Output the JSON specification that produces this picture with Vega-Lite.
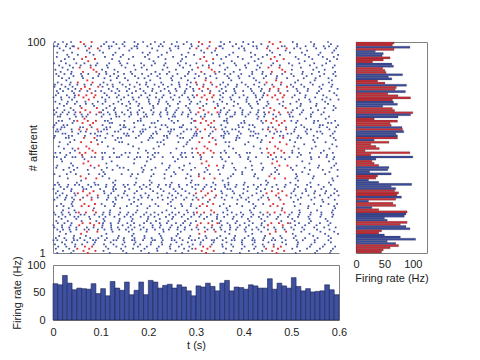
{
"$schema":"https://vega.github.io/schema/vega-lite/v6.json",
"padding":{"left":10,"top":36,"right":5,"bottom":5},
"background":"white",
"config":{"font":"Liberation Sans","view":{"stroke":null},
"axis":{"labelFont":"Liberation Sans","titleFont":"Liberation Sans","labelFontSize":11,"titleFontSize":11,"titleFontWeight":"normal","labelColor":"#222222","titleColor":"#222222","domainColor":"#808080","tickColor":"#808080","grid":false,"labelFlush":false}},
"datasets":{
"aff":[
{"aff":100,"rate":67,"grp":"R","blue":[4,21,38,112,127,150,171,189,214,233,260,281,352,371,399,420,503,541,577],"red":[58,81,306,329,454,477]},
{"aff":99,"rate":64,"grp":"R","blue":[11,29,107,133,146,178,205,226,249,274,290,359,384,410,437,512,548,583],"red":[65,313,461]},
{"aff":98,"rate":95,"grp":"B","blue":[3,9,27,41,44,68,80,101,117,123,150,171,176,198,222,230,257,263,291,305,328,349,352,377,396,420,427,451,480,486,512,530,547,568,579,597],"red":[]},
{"aff":97,"rate":67,"grp":"R","blue":[14,36,118,139,165,177,208,245,263,287,356,390,401,428,506,519,552,571,594],"red":[53,76,94,301,324,342,449,472,490]},
{"aff":96,"rate":34,"grp":"B","blue":[22,71,98,160,219,247,311,340,402,455,488,533,590],"red":[]},
{"aff":95,"rate":48,"grp":"B","blue":[9,40,77,105,131,188,203,239,284,317,333,378,415,460,497,522,561,586],"red":[]},
{"aff":94,"rate":46,"grp":"B","blue":[30,52,85,126,147,199,228,270,296,344,370,424,449,476,529,557,598],"red":[]},
{"aff":93,"rate":60,"grp":"R","blue":[8,33,109,142,168,193,221,252,279,363,388,416,440,509,537,566,589],"red":[69,317,465]},
{"aff":92,"rate":48,"grp":"R","blue":[25,44,124,159,202,236,271,353,398,431,515,544,575,596],"red":[61,88,309,336,457,484]},
{"aff":91,"rate":29,"grp":"R","blue":[17,139,211,268,375,423,528,581],"red":[74,322,470]},
{"aff":90,"rate":63,"grp":"B","blue":[2,27,49,66,93,118,141,156,185,214,236,262,279,301,336,358,381,410,437,462,495,517,548,573],"red":[]},
{"aff":89,"rate":66,"grp":"B","blue":[13,35,58,79,90,113,144,170,191,207,233,266,288,314,327,350,384,403,429,458,476,502,539,565,591],"red":[]},
{"aff":88,"rate":47,"grp":"R","blue":[20,42,115,152,186,240,273,366,405,434,520,553,587],"red":[56,79,304,327,452,475]},
{"aff":87,"rate":51,"grp":"R","blue":[5,31,103,129,173,197,230,258,292,361,392,427,501,546,570],"red":[85,333,481]},
{"aff":86,"rate":53,"grp":"R","blue":[16,39,111,136,163,215,244,285,349,379,418,440,524,558,592],"red":[63,91,311,339,459,487]},
{"aff":85,"rate":82,"grp":"B","blue":[7,24,38,59,74,97,112,128,149,166,187,206,224,239,261,283,299,318,341,360,372,395,418,439,457,481,500,523,543,569,588],"red":[]},
{"aff":84,"rate":57,"grp":"B","blue":[12,43,61,95,120,137,172,200,219,251,277,306,330,366,389,412,447,470,505,532,560,593],"red":[]},
{"aff":83,"rate":63,"grp":"B","blue":[19,34,63,84,108,134,151,179,192,225,248,269,297,321,343,369,391,421,442,469,491,526,551,578],"red":[]},
{"aff":82,"rate":38,"grp":"R","blue":[28,121,157,204,250,283,374,426,514,549,585],"red":[72,320,468]},
{"aff":81,"rate":51,"grp":"R","blue":[10,37,106,140,176,196,227,264,289,357,396,433,508,540,579],"red":[52,83,300,331,448,479]},
{"aff":80,"rate":89,"grp":"B","blue":[4,18,35,51,66,80,99,114,125,146,161,182,195,213,231,249,265,281,302,316,334,351,367,386,404,422,444,460,478,499,521,545,566,586],"red":[]},
{"aff":79,"rate":71,"grp":"R","blue":[3,26,41,104,126,153,171,199,222,241,266,288,362,385,409,432,504,527,559,584],"red":[67,95,315,343,463,491]},
{"aff":78,"rate":69,"grp":"R","blue":[15,32,47,117,135,160,183,209,234,257,280,294,354,380,415,438,511,535,563,597],"red":[59,77,307,325,455,473]},
{"aff":77,"rate":87,"grp":"B","blue":[8,21,40,56,72,89,101,123,139,155,174,190,208,226,243,259,277,295,313,330,349,363,381,399,417,436,454,473,492,513,534,558,580],"red":[]},
{"aff":76,"rate":56,"grp":"R","blue":[11,44,108,131,166,194,217,246,276,357,383,421,443,518,554,590],"red":[81,329,477]},
{"aff":75,"rate":74,"grp":"R","blue":[6,29,46,113,138,158,185,203,232,255,271,293,351,377,400,425,441,507,530,567,595],"red":[54,70,89,302,318,337,450,466,485]},
{"aff":74,"rate":96,"grp":"R","blue":[1,17,34,45,103,118,134,149,167,180,198,216,229,247,265,283,296,356,372,391,408,426,439,502,529,550,574],"red":[64,86,312,334,460,482]},
{"aff":73,"rate":64,"grp":"R","blue":[18,40,110,143,169,201,223,252,286,350,374,406,434,516,538,565,582,599],"red":[75,323,471]},
{"aff":72,"rate":66,"grp":"B","blue":[5,31,50,68,94,110,137,159,175,201,222,238,266,290,309,337,355,380,406,428,450,483,511,540,571],"red":[]},
{"aff":71,"rate":73,"grp":"B","blue":[14,29,46,69,83,104,127,145,162,181,203,220,241,262,287,303,322,345,365,388,411,430,452,475,498,520,553,577],"red":[]},
{"aff":70,"rate":47,"grp":"B","blue":[23,57,86,119,154,179,210,245,279,315,346,379,414,448,482,519,552,589],"red":[]},
{"aff":69,"rate":64,"grp":"R","blue":[9,37,112,130,162,187,211,238,263,284,359,393,417,442,512,541,570,593],"red":[60,92,308,340,456,488]},
{"aff":68,"rate":68,"grp":"R","blue":[2,24,43,105,128,157,181,206,237,259,287,352,370,398,431,503,525,556,588],"red":[68,316,464]},
{"aff":67,"rate":100,"grp":"R","blue":[7,20,33,47,101,115,131,145,163,177,190,211,226,240,256,272,289,351,366,382,397,414,430,443,500,522,545,568],"red":[57,78,97,305,326,345,453,474,493]},
{"aff":66,"rate":96,"grp":"B","blue":[3,16,30,45,60,73,91,106,119,132,150,164,178,195,209,224,240,253,270,284,300,319,333,348,363,381,397,410,427,445,462,477,496,518,541,563],"red":[]},
{"aff":65,"rate":74,"grp":"B","blue":[10,15,48,62,70,102,133,139,160,191,197,226,251,256,283,310,318,349,372,376,404,431,443,468,497,503,541,579],"red":[]},
{"aff":64,"rate":32,"grp":"R","blue":[35,122,184,243,291,365,429,531,572],"red":[66,314,462]},
{"aff":63,"rate":73,"grp":"R","blue":[12,19,44,109,115,150,178,184,220,249,262,296,359,364,401,437,500,513,548,556,592],"red":[51,73,90,299,321,338,447,469,486]},
{"aff":62,"rate":60,"grp":"R","blue":[7,41,119,124,170,207,213,254,290,366,395,402,440,510,547,577,584],"red":[62,84,310,332,458,480]},
{"aff":61,"rate":62,"grp":"R","blue":[3,22,30,104,141,149,190,228,236,273,353,389,412,419,521,560,566,598],"red":[78,326,474]},
{"aff":60,"rate":81,"grp":"B","blue":[1,18,24,57,63,81,112,120,148,152,171,203,215,240,266,270,299,331,338,362,390,398,423,452,461,489,510,527,559,575,594],"red":[]},
{"aff":59,"rate":82,"grp":"R","blue":[9,16,39,107,113,142,160,188,194,225,248,254,281,290,355,376,383,411,440,507,533,541,580],"red":[55,71,93,303,319,341,451,467,489]},
{"aff":58,"rate":84,"grp":"B","blue":[6,11,40,58,69,95,101,130,137,168,183,189,216,242,247,274,300,309,335,359,366,390,415,421,455,470,478,506,530,554,561,591],"red":[]},
{"aff":57,"rate":70,"grp":"B","blue":[20,26,53,79,88,114,149,156,185,210,218,245,268,297,302,330,361,369,394,425,431,464,492,500,533,565,587],"red":[]},
{"aff":56,"rate":73,"grp":"B","blue":[4,33,40,67,93,99,125,154,159,180,206,233,239,261,295,301,327,353,358,387,414,420,447,476,483,515,547,582],"red":[]},
{"aff":55,"rate":73,"grp":"R","blue":[2,27,33,110,136,143,174,203,209,240,267,273,292,358,385,391,429,513,520,555,589],"red":[65,87,313,335,461,483]},
{"aff":54,"rate":32,"grp":"B","blue":[45,92,131,200,232,287,341,384,438,497,546,593],"red":[]},
{"aff":53,"rate":58,"grp":"R","blue":[14,36,103,139,145,186,219,226,263,282,362,370,410,436,508,549,572],"red":[59,80,307,328,455,476]},
{"aff":52,"rate":26,"grp":"R","blue":[31,158,233,280,403,527,586],"red":[94,342,490]},
{"aff":51,"rate":35,"grp":"R","blue":[12,115,168,222,274,369,421,506,551,595],"red":[70,318,466]},
{"aff":50,"rate":41,"grp":"R","blue":[23,41,127,180,211,259,292,378,435,515,543,580],"red":[53,76,301,324,449,472]},
{"aff":49,"rate":16,"grp":"R","blue":[46,195,360,502,568],"red":[83,331,479]},
{"aff":48,"rate":95,"grp":"R","blue":[5,15,36,103,109,128,152,161,178,199,214,221,247,270,277,292,352,363,384,407,413,438,502,516,539,562,587],"red":[56,68,89,304,316,337,452,464,485]},
{"aff":47,"rate":26,"grp":"R","blue":[28,144,209,268,391,520,575],"red":[61,309,457]},
{"aff":46,"rate":100,"grp":"B","blue":[2,8,25,41,47,62,81,88,104,119,134,139,158,176,183,199,213,230,252,271,279,294,311,334,352,369,393,410,426,451,468,479,496,513,541,558,574,590],"red":[]},
{"aff":45,"rate":35,"grp":"B","blue":[17,66,104,171,205,262,310,355,409,461,487,542,588],"red":[]},
{"aff":44,"rate":28,"grp":"R","blue":[19,123,197,256,362,414,523,579],"red":[74,322,470]},
{"aff":43,"rate":32,"grp":"R","blue":[38,112,170,229,287,376,437,538,594],"red":[64,312,460]},
{"aff":42,"rate":40,"grp":"R","blue":[9,42,135,193,245,275,358,417,511,558,590],"red":[79,96,327,344,475,492]},
{"aff":41,"rate":58,"grp":"B","blue":[7,34,51,87,113,140,148,186,215,243,265,298,321,357,380,404,441,466,499,528,556,584],"red":[]},
{"aff":40,"rate":56,"grp":"B","blue":[22,44,73,102,125,158,190,207,238,272,290,324,347,383,418,439,470,503,539,566,597],"red":[]},
{"aff":39,"rate":24,"grp":"B","blue":[37,106,188,254,318,397,466,523,580],"red":[]},
{"aff":38,"rate":62,"grp":"B","blue":[3,29,48,75,97,109,144,166,178,211,234,257,282,306,329,350,378,397,424,458,474,510,536,571],"red":[]},
{"aff":37,"rate":38,"grp":"R","blue":[14,104,163,206,248,289,373,422,512,547,597],"red":[58,306,454]},
{"aff":36,"rate":35,"grp":"R","blue":[31,118,175,234,279,367,430,509,545,586],"red":[69,91,317,339,465,487]},
{"aff":35,"rate":22,"grp":"B","blue":[59,131,203,291,356,447,514,588],"red":[]},
{"aff":34,"rate":40,"grp":"B","blue":[10,50,87,126,174,207,249,289,336,368,402,451,498,540,579],"red":[]},
{"aff":33,"rate":98,"grp":"B","blue":[4,13,32,46,55,74,89,95,112,130,148,157,171,190,203,222,237,246,264,281,299,305,322,341,360,368,385,400,421,436,448,469,488,509,533,557,583],"red":[]},
{"aff":32,"rate":62,"grp":"B","blue":[16,30,62,80,111,127,151,182,196,220,245,265,292,318,332,361,383,409,430,460,486,514,541,568],"red":[]},
{"aff":31,"rate":70,"grp":"B","blue":[1,23,39,64,70,99,126,132,160,186,204,226,253,271,299,315,340,366,372,400,427,445,472,507,530,563,591],"red":[]},
{"aff":30,"rate":68,"grp":"R","blue":[10,38,107,127,151,176,210,232,257,278,353,377,408,436,505,531,550,573,596],"red":[63,85,311,333,459,481]},
{"aff":29,"rate":75,"grp":"R","blue":[6,20,45,108,122,149,171,194,219,244,262,286,355,380,399,427,500,523,548,571,590],"red":[52,77,300,325,448,473]},
{"aff":28,"rate":72,"grp":"R","blue":[14,29,47,116,137,156,184,201,228,250,269,295,364,392,418,441,509,536,560,583,599],"red":[72,94,320,342,468,490]},
{"aff":27,"rate":80,"grp":"B","blue":[9,27,40,63,81,94,116,131,145,170,186,199,220,241,258,280,301,314,339,354,376,395,410,437,451,474,499,520,549,578],"red":[]},
{"aff":26,"rate":70,"grp":"R","blue":[3,25,44,113,132,160,179,208,230,251,275,293,360,387,405,431,514,542,565,591],"red":[57,81,305,329,453,477]},
{"aff":25,"rate":22,"grp":"B","blue":[41,126,170,247,325,411,505,567],"red":[]},
{"aff":24,"rate":65,"grp":"R","blue":[17,39,102,130,164,185,215,241,269,290,358,386,420,441,519,548,578,596],"red":[66,88,314,336,462,484]},
{"aff":23,"rate":70,"grp":"R","blue":[8,22,41,109,128,155,177,203,221,248,271,289,350,371,397,425,507,536,562,590],"red":[60,75,308,323,456,471]},
{"aff":22,"rate":28,"grp":"B","blue":[33,86,141,198,256,301,364,422,481,535,592],"red":[]},
{"aff":21,"rate":40,"grp":"R","blue":[21,45,120,177,238,281,366,413,517,554,587],"red":[84,332,480]},
{"aff":20,"rate":90,"grp":"R","blue":[2,18,33,48,106,119,141,158,174,196,213,229,250,264,283,295,357,375,394,416,435,501,518,541,563,585],"red":[54,69,90,302,317,338,450,465,486]},
{"aff":19,"rate":88,"grp":"B","blue":[5,20,36,58,66,87,104,119,138,155,168,191,205,221,244,257,275,296,310,331,345,366,385,399,420,441,455,477,496,516,540,563,588],"red":[]},
{"aff":18,"rate":85,"grp":"B","blue":[12,26,45,53,76,97,110,129,150,163,184,200,213,237,252,270,290,307,323,344,359,379,396,416,432,450,472,493,514,536,561,586],"red":[]},
{"aff":17,"rate":50,"grp":"B","blue":[18,49,78,106,140,167,199,224,250,283,317,344,377,409,437,469,502,538,572],"red":[]},
{"aff":16,"rate":55,"grp":"B","blue":[7,31,60,91,108,139,165,197,216,242,277,300,334,352,386,412,444,479,507,541,576],"red":[]},
{"aff":15,"rate":90,"grp":"R","blue":[10,24,39,105,121,137,156,170,191,205,224,239,258,273,289,349,366,383,402,419,438,498,516,537,560,582],"red":[62,78,97,310,326,345,458,474,493]},
{"aff":14,"rate":78,"grp":"R","blue":[1,19,37,104,122,146,163,182,209,226,249,268,287,354,371,392,411,437,508,529,553,578],"red":[55,86,303,334,451,482]},
{"aff":13,"rate":88,"grp":"B","blue":[3,19,34,49,71,85,103,122,136,158,171,190,209,224,246,262,277,301,318,333,351,372,387,405,427,443,464,482,500,523,548,569,593],"red":[]},
{"aff":12,"rate":95,"grp":"B","blue":[9,21,35,49,66,75,94,108,123,139,153,166,184,197,214,231,243,261,276,291,305,324,338,353,371,384,402,418,431,451,467,486,505,527,554,580],"red":[]},
{"aff":11,"rate":45,"grp":"R","blue":[15,37,125,159,196,232,268,361,404,437,521,561,590],"red":[71,93,319,341,467,489]},
{"aff":10,"rate":40,"grp":"R","blue":[27,112,169,223,262,370,418,503,538,571,598],"red":[59,307,455]},
{"aff":9,"rate":50,"grp":"B","blue":[13,44,69,102,138,166,192,226,259,288,320,351,382,410,445,477,509,546,578],"red":[]},
{"aff":8,"rate":78,"grp":"B","blue":[6,24,43,57,78,95,113,136,149,171,192,207,228,249,266,285,306,322,344,363,380,402,420,443,462,480,505,529,555,583],"red":[]},
{"aff":7,"rate":105,"grp":"B","blue":[1,9,28,44,51,66,84,90,109,127,133,148,166,171,189,209,214,230,249,255,272,291,298,315,333,338,356,375,381,397,418,423,441,459,466,488,511,524,549,578],"red":[]},
{"aff":6,"rate":55,"grp":"B","blue":[19,40,72,88,121,150,173,206,228,259,283,310,337,364,396,423,452,481,514,549,583],"red":[]},
{"aff":5,"rate":70,"grp":"B","blue":[4,25,47,61,85,107,127,146,170,183,205,229,247,270,293,309,333,355,374,397,419,440,463,489,513,542,570],"red":[]},
{"aff":4,"rate":75,"grp":"R","blue":[11,28,46,111,133,152,178,197,222,245,264,286,356,378,402,425,443,512,539,566,592],"red":[67,82,315,330,463,478]},
{"aff":3,"rate":60,"grp":"R","blue":[6,34,116,143,168,192,218,246,275,292,363,396,422,502,533,560,587],"red":[51,76,299,324,447,472]},
{"aff":2,"rate":48,"grp":"R","blue":[21,43,106,147,185,219,257,284,374,411,439,518,554,583],"red":[64,89,312,337,460,485]},
{"aff":1,"rate":45,"grp":"R","blue":[9,38,119,154,201,239,271,358,392,430,509,550,581],"red":[73,321,469]}
],
"hist":[
{"t0":0,"t1":10,"rate":66},{"t0":10,"t1":20,"rate":64},{"t0":20,"t1":30,"rate":81},{"t0":30,"t1":40,"rate":67},{"t0":40,"t1":50,"rate":55},
{"t0":50,"t1":60,"rate":58},{"t0":60,"t1":70,"rate":57},{"t0":70,"t1":80,"rate":56},{"t0":80,"t1":90,"rate":66},{"t0":90,"t1":100,"rate":48},
{"t0":100,"t1":110,"rate":57},{"t0":110,"t1":120,"rate":44},{"t0":120,"t1":130,"rate":70},{"t0":130,"t1":140,"rate":58},{"t0":140,"t1":150,"rate":54},
{"t0":150,"t1":160,"rate":69},{"t0":160,"t1":170,"rate":46},{"t0":170,"t1":180,"rate":54},{"t0":180,"t1":190,"rate":69},{"t0":190,"t1":200,"rate":46},
{"t0":200,"t1":210,"rate":72},{"t0":210,"t1":220,"rate":69},{"t0":220,"t1":230,"rate":58},{"t0":230,"t1":240,"rate":63},{"t0":240,"t1":250,"rate":65},
{"t0":250,"t1":260,"rate":58},{"t0":260,"t1":270,"rate":64},{"t0":270,"t1":280,"rate":60},{"t0":280,"t1":290,"rate":53},{"t0":290,"t1":300,"rate":44},
{"t0":300,"t1":310,"rate":62},{"t0":310,"t1":320,"rate":60},{"t0":320,"t1":330,"rate":67},{"t0":330,"t1":340,"rate":61},{"t0":340,"t1":350,"rate":53},
{"t0":350,"t1":360,"rate":67},{"t0":360,"t1":370,"rate":72},{"t0":370,"t1":380,"rate":53},{"t0":380,"t1":390,"rate":60},{"t0":390,"t1":400,"rate":59},
{"t0":400,"t1":410,"rate":56},{"t0":410,"t1":420,"rate":64},{"t0":420,"t1":430,"rate":62},{"t0":430,"t1":440,"rate":58},{"t0":440,"t1":450,"rate":58},
{"t0":450,"t1":460,"rate":75},{"t0":460,"t1":470,"rate":56},{"t0":470,"t1":480,"rate":67},{"t0":480,"t1":490,"rate":62},{"t0":490,"t1":500,"rate":58},
{"t0":500,"t1":510,"rate":77},{"t0":510,"t1":520,"rate":61},{"t0":520,"t1":530,"rate":53},{"t0":530,"t1":540,"rate":57},{"t0":540,"t1":550,"rate":51},
{"t0":550,"t1":560,"rate":52},{"t0":560,"t1":570,"rate":53},{"t0":570,"t1":580,"rate":64},{"t0":580,"t1":590,"rate":55},{"t0":590,"t1":600,"rate":46}
]
},
"columns":2,
"spacing":{"row":12,"column":17},
"bounds":"flush",
"concat":[
{
"width":286,"height":211,
"data":{"name":"aff"},
"encoding":{
"x":{"field":"t","type":"quantitative","scale":{"domain":[0,600],"nice":false,"zero":false},"axis":{"labels":false,"ticks":false,"title":null,"domain":true}},
"y":{"field":"aff","type":"quantitative","scale":{"domain":[1,100],"nice":false,"zero":false},"axis":{"values":[1,100],"title":"# afferent","ticks":false,"domain":true,"labelPadding":8,"titleX":-20,"titleBaseline":"middle"}}
},
"layer":[
{"transform":[{"flatten":["blue"],"as":["t"]}],"mark":{"type":"square","size":3,"color":"#4252A3","opacity":1}},
{"transform":[{"flatten":["red"],"as":["t"]}],"mark":{"type":"square","size":3.5,"color":"#DC3038","opacity":1}}
]
},
{
"width":71,"height":211,
"data":{"name":"aff"},
"view":{"stroke":"#808080"},
"mark":{"type":"bar","stroke":"#1e1e1e","strokeWidth":0.2},
"encoding":{
"y":{"field":"aff","type":"ordinal","sort":"descending","scale":{"paddingInner":0,"paddingOuter":0},"axis":null},
"x":{"field":"rate","type":"quantitative","scale":{"domain":[0,125],"nice":false},"axis":{"values":[0,50,100],"title":"Firing rate (Hz)","ticks":false,"domain":false,"labelPadding":5,"titlePadding":3}},
"color":{"field":"grp","type":"nominal","scale":{"domain":["R","B"],"range":["#C8303A","#3C4C9C"]},"legend":null}
}
},
{
"width":286,"height":55,
"data":{"name":"hist"},
"view":{"stroke":"#808080"},
"mark":{"type":"rect","color":"#3E50A0","stroke":"#1c2250","strokeWidth":0.6},
"encoding":{
"x":{"field":"t0","type":"quantitative","scale":{"domain":[0,600],"nice":false},"axis":{"values":[0,100,200,300,400,500,600],"labelExpr":"datum.value == 0 ? '0' : format(datum.value/1000, '.1f')","title":"t (s)","ticks":false,"domain":false,"labelPadding":6,"titlePadding":2}},
"x2":{"field":"t1"},
"y":{"field":"rate","type":"quantitative","scale":{"domain":[0,100],"nice":false},"axis":{"values":[0,50,100],"title":"Firing rate (Hz)","ticks":false,"domain":false,"labelPadding":8,"titleX":-36,"titleBaseline":"middle"}},
"y2":{"datum":0}
}
}
]
}
